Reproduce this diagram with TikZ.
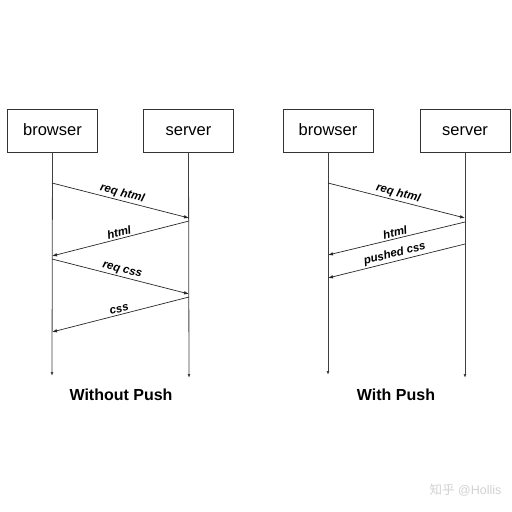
\documentclass[tikz,border=0pt]{standalone}
\usepackage{fontspec}
\setmainfont{Liberation Sans}
\newfontfamily\cjkfont{Noto Sans CJK SC}
\usetikzlibrary{arrows.meta}
\begin{document}
\begin{tikzpicture}[x=1pt,y=-1pt,
  actor/.style={draw=black!80, line width=0.8pt, minimum width=90pt, minimum height=43pt, inner sep=0pt, text height=12pt, text depth=2pt, font=\fontsize{16.5}{18}\selectfont},
  life/.style={draw=black!75, line width=0.8pt, -{Latex[length=4pt,width=3pt]}},
  msg/.style={draw=black!85, line width=0.7pt, -{Latex[length=5pt,width=3.5pt]}},
  lbl/.style={font=\fontsize{11.5}{13}\bfseries\itshape\selectfont, inner sep=1.5pt, sloped, above, midway},
  ttl/.style={font=\fontsize{16}{18}\bfseries\selectfont}]
\useasboundingbox (0,0) rectangle (512,512);
% Without Push
\node[actor] (b1) at (52.5,130.5) {browser};
\node[actor] (s1) at (188.5,130.5) {server};
\coordinate (b1e) at (52,376);
\coordinate (s1e) at (189,378);
\draw[life] (b1.south) -- (b1e);
\draw[life] (s1.south) -- (s1e);
\coordinate (a1) at (52,183); \coordinate (a2) at (189,218);
\coordinate (a3) at (189,221); \coordinate (a4) at (52,256);
\coordinate (a5) at (52,259); \coordinate (a6) at (189,294);
\coordinate (a7) at (189,297); \coordinate (a8) at (52,332);
\draw[msg] (a1) -- node[lbl]{req html} (a2);
\draw[msg] (a3) -- node[lbl]{html} (a4);
\draw[msg] (a5) -- node[lbl]{req css} (a6);
\draw[msg] (a7) -- node[lbl]{css} (a8);
\node[ttl] (t1) at (121,395) {Without Push};
% With Push
\node[actor] (b2) at (328,130.5) {browser};
\node[actor] (s2) at (465,130.5) {server};
\coordinate (b2e) at (328,375);
\coordinate (s2e) at (465,378);
\draw[life] (b2.south) -- (b2e);
\draw[life] (s2.south) -- (s2e);
\coordinate (c1) at (328,183); \coordinate (c2) at (465,218);
\coordinate (c3) at (465,222); \coordinate (c4) at (328,255);
\coordinate (c5) at (465,244); \coordinate (c6) at (328,278);
\draw[msg] (c1) -- node[lbl]{req html} (c2);
\draw[msg] (c3) -- node[lbl]{html} (c4);
\draw[msg] (c5) -- node[lbl]{pushed css} (c6);
\node[ttl] (t2) at (396,395) {With Push};
% watermark
\node[text=black!18, font=\fontsize{12.5}{14}\selectfont, anchor=east] (wm) at (505,490) {{\cjkfont 知乎} @Hollis};
\end{tikzpicture}
\end{document}
